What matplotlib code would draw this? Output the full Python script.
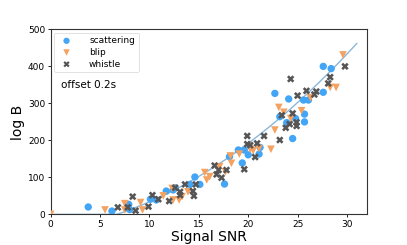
import numpy as np
import matplotlib
matplotlib.use("Agg")
import matplotlib.pyplot as plt

scat_x = [3.8, 6.2, 7.9, 8.0, 10.1, 10.7, 11.7, 12.4, 12.6, 14.1, 14.6, 15.1, 17.6, 18.1,
          19.0, 19.4, 19.6, 20.0, 21.2, 21.1, 22.7, 23.2, 23.9, 24.1, 24.5, 24.8, 25.6,
          25.7, 25.7, 26.1, 27.6, 27.6, 28.4]
scat_y = [20, 9, 27, 13, 41, 39, 63, 66, 72, 81, 101, 81, 82, 156,
          174, 139, 174, 161, 181, 163, 327, 264, 248, 312, 205, 259, 309,
          271, 250, 309, 400, 330, 394]

blip_x = [0.0, 5.5, 7.5, 7.5, 9.1, 9.3, 11.4, 12.3, 12.4, 13.0, 13.3, 13.9, 15.6, 15.8,
          16.1, 17.1, 17.7, 18.2, 18.3, 19.1, 20.2, 20.5, 21.1, 22.3, 22.7, 23.1, 23.6,
          24.3, 25.4, 26.3, 28.3, 28.9, 29.6]
blip_y = [0, 12, 29, 12, 32, 12, 50, 70, 39, 39, 48, 61, 113, 93,
          102, 129, 115, 158, 138, 163, 176, 172, 178, 176, 228, 289, 276,
          259, 280, 315, 343, 343, 431]

whis_x = [6.8, 7.8, 8.3, 8.6, 9.9, 10.3, 10.9, 12.0, 12.6, 13.1, 13.1, 13.6, 14.4, 14.5,
          14.7, 16.6, 16.8, 17.0, 17.3, 17.8, 19.6, 19.9, 19.9, 20.2, 20.7, 20.9, 21.6,
          23.2, 23.4, 23.8, 24.2, 24.3, 24.5, 24.9, 24.9, 25.0, 25.9, 26.7, 26.9, 28.1,
          28.3, 29.8]
whis_y = [19, 19, 48, 10, 21, 52, 41, 36, 72, 61, 52, 81, 63, 50,
          81, 132, 108, 120, 99, 120, 122, 212, 190, 187, 155, 192, 212,
          201, 268, 234, 244, 366, 273, 249, 239, 321, 334, 324, 332, 354,
          371, 400]

x_ticks = [0, 5, 10, 15, 20, 25, 30]
y_ticks = [0, 100, 200, 300, 400, 500]

# quadratic trend line (coefficients), floored at zero
fit_coef = [0.4165, 3.31, -40.8]
fit_range = (0, 31)

fit_x = np.linspace(fit_range[0], fit_range[1], 300)
fit_y = np.clip(np.polyval(fit_coef, fit_x), 0, None)

fig = plt.figure(figsize=(4.07, 2.45), dpi=100)
ax = fig.add_axes([0.1246, 0.125, 0.7764, 0.755])

ax.plot(fit_x, fit_y, color="#8ab8dc", lw=1.0, zorder=1)
ax.scatter(scat_x, scat_y, marker="o", s=28, color="#42a5f5", edgecolors="none",
           label="scattering", zorder=3)
ax.scatter(blip_x, blip_y, marker="v", s=30, color="#f4a261", edgecolors="none",
           label="blip", zorder=3)
ax.scatter(whis_x, whis_y, marker="X", s=28, color="#555555", edgecolors="none",
           label="whistle", zorder=3)

ax.set_xlim(0, 32)
ax.set_ylim(0, 500)
ax.set_xticks(x_ticks)
ax.set_yticks(y_ticks)
ax.tick_params(labelsize=6.5, length=2.5, width=0.6, pad=1.5)
for s in ax.spines.values():
    s.set_linewidth(0.8)
    s.set_color("#333333")

ax.set_xlabel("Signal SNR", fontsize=10, labelpad=1)
ax.set_ylabel("log B", fontsize=10, labelpad=2)

leg = ax.legend(loc="upper left", fontsize=6.5, frameon=True, handletextpad=1.5,
                borderpad=0.4, labelspacing=0.3, markerscale=0.85,
                borderaxespad=0.35)
leg.get_frame().set_linewidth(0.5)

ax.text(0.032, 0.70, "offset 0.2s", transform=ax.transAxes, fontsize=7.5,
        va="center", ha="left")

fig.savefig("out.png", dpi=100)
